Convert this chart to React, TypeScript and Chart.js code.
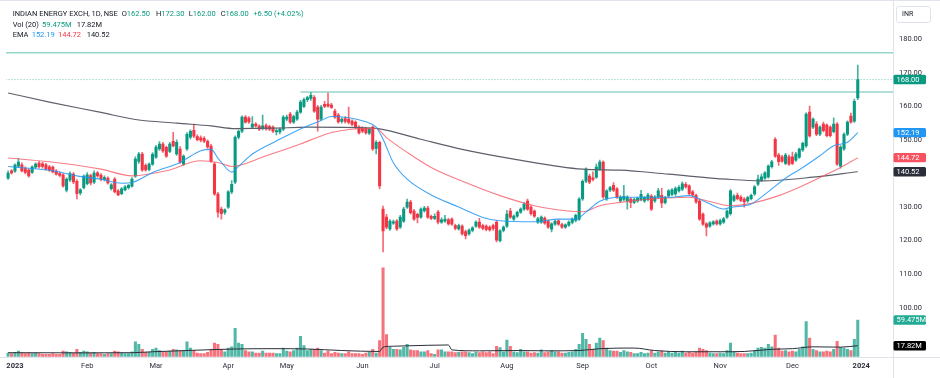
import React, { useEffect, useRef } from 'react';
import { Chart, registerables } from 'chart.js';

Chart.register(...registerables);

// [open, high, low, close, volume (millions)]
type Bar = [number, number, number, number, number];

const dec2022: Bar[] = [
  [138.6, 140.8, 138.2, 140.1, 6], [140.8, 141.2, 139.8, 140.2, 5],
];
const jan: Bar[] = [
  [140.7, 142.9, 140.3, 142.5, 7], [142.2, 144.5, 141.8, 143.4, 9], [142.6, 143.2, 140.5, 140.8, 6],
  [141.5, 142.0, 139.9, 140.3, 5], [141.0, 141.5, 138.9, 139.3, 6], [140.3, 142.3, 140.0, 142.0, 5],
  [141.9, 143.2, 141.5, 142.8, 6], [143.1, 143.6, 141.6, 142.0, 5], [142.9, 143.4, 141.6, 142.1, 4],
  [142.6, 143.0, 141.0, 141.3, 4], [142.0, 142.4, 140.6, 141.0, 4], [141.9, 142.2, 140.2, 140.5, 5],
  [140.7, 141.2, 139.5, 139.8, 4], [140.0, 140.5, 139.0, 139.4, 4], [139.6, 140.0, 135.9, 136.3, 9],
  [135.0, 138.7, 134.5, 138.3, 8], [138.1, 140.5, 137.6, 140.0, 7], [139.8, 140.3, 137.0, 137.5, 6],
  [137.7, 138.2, 132.4, 134.0, 12], [134.2, 135.5, 133.6, 135.1, 7], [135.8, 139.6, 135.4, 139.2, 9],
];
const feb: Bar[] = [
  [137.0, 140.3, 136.6, 139.6, 8], [139.4, 139.8, 136.6, 137.2, 6], [137.4, 140.8, 137.0, 140.1, 7],
  [140.2, 140.6, 138.9, 139.3, 5], [139.5, 140.0, 137.8, 138.3, 5], [138.2, 139.3, 137.8, 138.8, 4],
  [138.6, 139.0, 136.8, 137.2, 5], [135.5, 137.0, 135.0, 136.6, 5], [138.3, 138.8, 134.2, 134.5, 9],
  [134.8, 135.2, 133.4, 133.6, 8], [134.0, 135.8, 133.7, 135.4, 6], [135.1, 136.4, 134.8, 136.0, 5],
  [135.8, 136.8, 135.3, 136.5, 5], [136.2, 138.8, 135.9, 138.3, 8], [139.2, 145.0, 138.8, 144.3, 24],
  [143.6, 146.3, 143.0, 145.8, 20], [145.8, 146.3, 140.6, 141.1, 12], [142.4, 142.9, 140.7, 141.1, 7],
  [141.2, 143.2, 140.8, 142.8, 7], [142.8, 146.2, 142.4, 145.7, 12],
];
const mar: Bar[] = [
  [144.9, 148.4, 144.5, 147.9, 14], [147.3, 149.5, 146.9, 148.8, 10], [148.8, 149.3, 146.3, 146.7, 8],
  [147.8, 148.2, 144.8, 145.2, 8], [146.6, 149.3, 146.2, 148.8, 9], [149.6, 152.3, 147.9, 148.2, 12],
  [145.8, 150.0, 145.4, 149.3, 11], [147.3, 148.0, 143.0, 143.4, 10], [142.8, 145.6, 142.4, 145.2, 9],
  [147.3, 152.2, 146.9, 151.7, 24], [150.8, 153.0, 150.3, 152.6, 14], [152.9, 154.7, 150.7, 151.1, 10],
  [151.0, 151.5, 149.7, 150.1, 6], [150.6, 151.2, 149.4, 149.9, 5], [150.5, 151.0, 149.2, 149.6, 5],
  [149.6, 150.0, 147.5, 147.9, 7], [148.2, 148.7, 143.3, 143.7, 12], [142.8, 143.3, 133.5, 133.9, 22],
  [133.9, 134.4, 127.0, 128.5, 20], [129.4, 130.0, 126.4, 128.0, 12], [128.4, 129.5, 127.8, 129.2, 8],
];
const apr: Bar[] = [
  [130.0, 134.9, 129.6, 134.5, 14], [134.5, 137.9, 134.0, 136.8, 16], [137.4, 151.2, 137.0, 150.8, 46],
  [150.8, 153.0, 150.3, 152.6, 22], [152.6, 157.2, 152.2, 156.8, 20], [156.8, 157.3, 155.0, 155.3, 10],
  [156.5, 157.0, 154.9, 155.4, 8], [153.8, 157.0, 153.4, 154.7, 8], [154.7, 155.2, 153.8, 154.2, 6],
  [154.1, 154.5, 152.8, 153.2, 6], [153.4, 157.4, 153.0, 154.2, 9], [154.3, 154.8, 152.9, 153.3, 6],
  [154.0, 154.4, 152.8, 153.2, 6], [153.8, 154.2, 152.2, 152.6, 6], [152.4, 153.2, 151.5, 152.8, 5],
  [152.4, 153.6, 151.8, 153.2, 5], [153.2, 157.3, 152.8, 156.8, 14],
];
const may: Bar[] = [
  [156.2, 157.4, 155.7, 156.8, 9], [157.7, 158.2, 154.9, 155.3, 8], [155.3, 157.4, 154.9, 157.0, 10],
  [156.2, 158.8, 155.8, 158.3, 14], [158.3, 161.8, 157.9, 161.3, 33], [160.0, 162.5, 159.6, 162.0, 18],
  [162.0, 163.0, 161.4, 162.6, 10], [162.4, 164.1, 161.8, 163.3, 12], [162.7, 163.2, 158.2, 158.6, 12],
  [159.8, 160.3, 152.6, 156.2, 14], [156.2, 160.3, 155.8, 159.8, 10], [160.6, 161.5, 159.6, 160.0, 6],
  [160.7, 164.0, 159.8, 160.1, 9], [160.4, 160.9, 159.4, 159.7, 5], [158.6, 159.2, 156.4, 156.8, 7],
  [157.4, 157.9, 155.0, 155.4, 6], [155.5, 156.6, 155.0, 156.2, 5], [156.4, 157.0, 155.0, 155.5, 5],
  [156.2, 159.8, 154.8, 155.2, 8], [155.6, 156.0, 154.2, 154.6, 5], [155.3, 155.7, 153.4, 153.8, 5],
  [153.8, 154.3, 151.7, 152.1, 5],
];
const jun: Bar[] = [
  [153.5, 154.0, 152.2, 152.6, 4], [153.4, 153.8, 151.7, 152.1, 6], [152.0, 153.6, 151.6, 153.2, 7],
  [153.8, 154.2, 146.9, 147.3, 12], [147.5, 149.8, 145.8, 149.3, 6], [149.3, 149.7, 135.4, 136.3, 26],
  [129.4, 130.3, 116.6, 122.9, 144], [127.0, 127.8, 123.5, 124.0, 36], [123.5, 126.3, 123.0, 125.8, 15],
  [125.2, 126.1, 124.8, 125.6, 12], [125.8, 126.3, 123.0, 123.5, 12], [124.0, 127.5, 123.6, 127.0, 11],
  [125.8, 129.9, 125.4, 129.4, 15], [130.0, 132.4, 129.6, 131.5, 20], [131.5, 132.0, 127.9, 128.3, 11],
  [128.8, 129.3, 126.0, 126.4, 10], [127.8, 128.2, 125.3, 126.9, 10], [127.0, 129.8, 126.6, 129.4, 8],
  [128.9, 130.2, 128.5, 129.7, 8], [129.7, 130.2, 126.6, 127.0, 10], [127.2, 127.6, 126.2, 126.6, 5],
];
const jul: Bar[] = [
  [126.6, 128.0, 126.2, 127.2, 4], [128.5, 129.0, 125.0, 125.5, 11], [125.5, 126.8, 125.1, 126.2, 11],
  [125.8, 127.5, 125.4, 126.4, 8], [126.2, 126.6, 124.6, 125.0, 8], [126.4, 126.8, 124.5, 124.9, 8],
  [124.5, 124.9, 123.2, 123.6, 6.5], [123.5, 124.9, 123.1, 124.5, 7.5], [124.3, 124.7, 121.6, 122.0, 8],
  [122.7, 123.1, 120.5, 121.5, 8], [122.0, 123.5, 121.6, 123.1, 6.5], [123.0, 124.2, 122.6, 123.8, 5],
  [124.3, 125.9, 123.9, 125.5, 7.5], [125.5, 126.6, 123.6, 124.0, 6.5], [124.5, 124.9, 123.2, 123.6, 8],
  [124.3, 124.7, 122.9, 123.3, 6.5], [124.0, 124.4, 122.8, 123.2, 8], [124.5, 124.9, 123.0, 123.6, 5],
  [125.5, 126.0, 119.6, 120.1, 17], [120.0, 123.3, 119.6, 122.9, 14.6], [123.0, 124.4, 122.6, 124.0, 8],
];
const aug: Bar[] = [
  [124.3, 129.0, 123.9, 127.9, 27], [128.8, 129.6, 126.6, 127.0, 17], [126.4, 127.7, 126.0, 127.3, 8],
  [127.3, 128.8, 126.9, 128.4, 6.5], [128.5, 129.8, 128.1, 129.4, 12], [129.4, 131.3, 129.0, 130.9, 8],
  [131.8, 132.4, 129.0, 129.4, 8], [130.0, 130.4, 127.6, 128.0, 6], [128.8, 129.2, 126.9, 127.3, 6.5],
  [125.5, 126.9, 125.1, 126.5, 6], [125.5, 127.4, 125.1, 127.0, 11], [126.7, 127.1, 124.8, 125.2, 6.5],
  [125.8, 126.2, 123.6, 124.0, 8], [123.4, 125.4, 122.6, 125.0, 10], [124.9, 126.1, 124.5, 125.8, 8],
  [125.9, 126.3, 124.5, 124.9, 8], [124.8, 125.2, 123.6, 124.0, 6], [124.0, 125.0, 123.6, 124.7, 6],
  [124.6, 125.9, 124.2, 125.5, 7], [125.4, 126.8, 125.0, 126.4, 8], [126.0, 127.9, 125.6, 127.5, 12],
  [126.4, 132.8, 126.0, 132.4, 20],
];
const sep: Bar[] = [
  [132.4, 138.1, 132.0, 137.7, 38], [137.7, 141.7, 137.3, 141.3, 28], [139.2, 139.8, 137.0, 137.4, 20],
  [138.7, 140.5, 137.8, 138.2, 12], [138.9, 142.8, 138.5, 141.9, 22], [141.3, 144.0, 140.9, 143.4, 30],
  [143.4, 143.8, 132.6, 133.0, 26], [132.4, 135.2, 132.0, 134.8, 14], [135.0, 136.2, 134.6, 135.8, 10],
  [136.5, 137.3, 134.6, 135.0, 9], [135.4, 135.8, 132.6, 133.0, 9], [131.8, 133.4, 131.4, 133.0, 7],
  [132.3, 136.5, 131.9, 133.2, 10], [131.8, 133.4, 129.4, 133.0, 8], [132.4, 132.8, 129.8, 131.4, 7],
  [131.4, 132.6, 131.0, 132.2, 5], [131.8, 133.0, 131.4, 132.6, 5], [132.2, 135.0, 131.8, 133.8, 7],
  [131.8, 133.2, 131.4, 132.8, 5], [132.2, 134.1, 131.8, 133.6, 6],
];
const oct: Bar[] = [
  [133.3, 133.7, 128.9, 129.4, 10], [131.8, 133.4, 131.4, 133.0, 6], [133.0, 135.6, 132.6, 134.8, 8],
  [133.5, 135.6, 129.8, 131.2, 9], [131.3, 133.2, 130.9, 132.8, 6], [133.3, 135.2, 132.9, 134.8, 8],
  [133.8, 135.5, 133.4, 135.1, 6], [133.9, 136.0, 133.5, 135.5, 7], [134.8, 136.4, 134.4, 135.9, 6],
  [135.3, 137.5, 134.9, 136.9, 9], [136.8, 137.4, 135.6, 136.0, 6], [136.3, 136.6, 133.6, 134.0, 7],
  [134.5, 135.0, 133.2, 133.6, 6], [133.5, 133.9, 131.1, 131.5, 8], [131.8, 132.2, 126.0, 126.4, 14],
  [127.9, 128.3, 124.5, 124.9, 12], [125.0, 125.4, 121.4, 124.0, 10], [124.3, 125.7, 123.9, 125.3, 6],
  [125.0, 126.0, 124.6, 125.6, 5], [125.8, 126.2, 124.6, 125.0, 5],
];
const nov: Bar[] = [
  [125.0, 126.4, 124.6, 126.0, 6], [125.5, 126.9, 125.1, 126.5, 5], [127.0, 129.2, 126.6, 128.8, 10],
  [128.0, 135.2, 127.6, 134.8, 22], [132.0, 133.7, 131.6, 133.3, 8], [133.5, 134.2, 132.1, 132.5, 6],
  [133.0, 133.4, 131.6, 132.0, 5], [132.4, 132.8, 130.0, 131.5, 5], [131.8, 133.2, 131.4, 132.8, 5],
  [132.5, 133.9, 132.1, 133.5, 6], [133.9, 136.4, 133.5, 136.0, 10], [136.8, 139.5, 136.4, 138.3, 14],
  [138.0, 139.8, 137.6, 139.0, 15], [138.6, 140.6, 138.2, 140.2, 14], [139.0, 142.6, 138.6, 142.2, 20],
  [142.0, 143.9, 141.6, 143.5, 16], [150.2, 150.7, 144.8, 145.2, 35], [145.5, 146.0, 142.4, 143.5, 14],
  [145.0, 145.4, 143.3, 143.7, 9], [143.0, 146.0, 142.6, 145.5, 10], [145.0, 145.6, 142.4, 142.8, 8],
];
const dec: Bar[] = [
  [145.0, 146.4, 142.6, 143.0, 9], [144.0, 146.3, 143.6, 145.8, 8], [144.9, 147.6, 144.5, 147.3, 12],
  [147.0, 149.4, 146.6, 149.0, 16], [148.2, 158.1, 147.8, 157.7, 57], [158.3, 160.1, 150.8, 151.2, 30],
  [153.8, 156.6, 153.4, 156.2, 12], [154.7, 155.5, 151.3, 151.7, 10], [151.7, 154.2, 151.3, 153.8, 8],
  [154.7, 155.3, 152.4, 152.8, 8], [154.4, 154.8, 150.9, 151.3, 9], [153.8, 154.2, 150.9, 151.3, 8],
  [152.5, 156.6, 152.1, 154.7, 12], [154.7, 155.2, 142.4, 142.8, 25], [142.2, 148.3, 141.6, 147.9, 15],
  [147.3, 152.1, 146.9, 151.7, 14], [151.7, 155.7, 151.3, 155.3, 12], [157.1, 158.0, 155.0, 155.3, 10],
  [155.6, 162.2, 155.2, 161.5, 28], [162.5, 172.3, 162.0, 168.0, 59.475],
];

const months2023: Bar[][] = [jan, feb, mar, apr, may, jun, jul, aug, sep, oct, nov, dec];
const monthLabels = ['2023', 'Feb', 'Mar', 'Apr', 'May', 'Jun', 'Jul', 'Aug', 'Sep', 'Oct', 'Nov', 'Dec', '2024'];
const priceTicks = [100, 110, 120, 130, 140, 150, 160, 170, 180];

// indicator readings: [bar index, value]
const ema20: [number, number][] = [
  [-2, 142.1], [11, 140.8], [18, 139.3], [25, 138.3], [31, 137.1], [34, 137.3], [40, 140.3], [48, 143.3],
  [54, 146.8], [57, 147.2], [59, 144.6], [62, 141.0], [63, 140.4], [65, 142.1], [69, 145.8], [76, 149.7],
  [83, 153.3], [89, 155.8], [92, 157.0], [102, 155.4], [105, 153.8], [107, 150.2], [110, 143.2], [114, 138.3],
  [121, 133.6], [129, 130.0], [136, 126.9], [141, 125.9], [151, 125.6], [158, 126.4], [163, 126.4], [166, 128.5],
  [170, 131.7], [176, 132.9], [190, 132.9], [196, 133.4], [201, 131.4], [206, 129.4], [208, 129.9], [214, 130.9],
  [219, 134.6], [224, 138.6], [229, 141.8], [234, 145.3], [238, 148.3], [242, 149.3], [245, 152.19],
];
const ema50: [number, number][] = [
  [-2, 144.6], [10, 143.5], [25, 141.3], [34, 139.3], [44, 140.8], [54, 143.8], [59, 143.3], [63, 142.1],
  [73, 145.3], [83, 148.8], [89, 151.2], [92, 152.2], [102, 153.4], [105, 153.4], [108, 150.7], [114, 146.3],
  [121, 141.8], [131, 137.3], [141, 133.4], [151, 130.4], [160, 128.9], [165, 128.6], [170, 130.4], [176, 131.4],
  [180, 131.9], [196, 132.9], [201, 131.9], [208, 130.4], [214, 131.1], [222, 133.4], [228, 135.9], [234, 138.8],
  [240, 141.8], [245, 144.72],
];
const ema200: [number, number][] = [
  [-2, 164.0], [10, 161.3], [25, 158.2], [35, 156.1], [47, 155.0], [57, 154.2], [64, 153.4], [75, 153.5],
  [85, 153.8], [100, 153.7], [106, 153.3], [118, 150.2], [130, 147.2], [145, 144.3], [165, 141.3], [176, 141.0],
  [190, 139.8], [207, 138.3], [217, 137.8], [232, 138.9], [245, 140.52],
];
const volMA: [number, number][] = [
  [-2, 6.5], [20, 6.2], [34, 6.5], [40, 8], [50, 10], [64, 12.5], [75, 13], [85, 12.5], [95, 10], [106, 8.5],
  [107, 15.5], [110, 17], [120, 18.5], [126, 19], [127, 11], [135, 9.5], [145, 10], [155, 9.5], [164, 10],
  [170, 13], [180, 14], [186, 10], [195, 8], [205, 8], [212, 8.5], [220, 12], [226, 13], [232, 16], [240, 15.5],
  [245, 17.82],
];
const hLineTop = 176.0;
const hLineMid = 164.3;
const hLineMidStart = 83;

const UP = '#089981';
const DOWN = '#F23645';
const FONT = 'Roboto, "Noto Sans", sans-serif';

const allBars: Bar[] = [...dec2022, ...months2023.flat()];
const firstIndex = -dec2022.length;
const lastBar = allBars[allBars.length - 1];
const prevBar = allBars[allBars.length - 2];

export default function App() {
  const ref = useRef<HTMLCanvasElement>(null);

  useEffect(() => {
    const xs = allBars.map((_, k) => firstIndex + k);
    const isUp = allBars.map((b) => b[3] >= b[0]);
    const monthTicks: number[] = [];
    let acc = 0;
    months2023.forEach((m) => { monthTicks.push(acc); acc += m.length; });
    monthTicks.push(acc);

    const pts = (arr: [number, number][]) => arr.map(([x, y]) => ({ x, y }));
    const xMin = -2.61;
    const xMax = 255.24;

    const last = lastBar[3];
    const overlay = {
      id: 'overlay',
      afterDraw(chart: any) {
        const { ctx, chartArea: a, scales } = chart;
        ctx.save();
        ctx.strokeStyle = '#e0e3eb';
        ctx.lineWidth = 1;
        const rx = Math.round(a.right) + 0.5;
        ctx.beginPath(); ctx.moveTo(rx, 0); ctx.lineTo(rx, chart.height); ctx.stroke();
        const by = Math.round(a.bottom) + 0.5;
        ctx.beginPath(); ctx.moveTo(0, by); ctx.lineTo(chart.width, by); ctx.stroke();
        ctx.beginPath(); ctx.moveTo(0, 0.5); ctx.lineTo(chart.width, 0.5); ctx.stroke();

        const badge = (y: number, text: string, bg: string) => {
          const h = 9.4;
          ctx.fillStyle = bg;
          ctx.beginPath();
          ctx.roundRect(a.right + 0.5, y - h / 2, 32.5, h, 1.5);
          ctx.fill();
          ctx.fillStyle = '#ffffff';
          ctx.font = `7.5px ${FONT}`;
          ctx.textBaseline = 'middle';
          ctx.textAlign = 'left';
          ctx.fillText(text, a.right + 3.5, y + 0.3);
        };
        const ys = scales.y;
        const yv = scales.yv;
        badge(ys.getPixelForValue(ema200[ema200.length - 1][1]), ema200[ema200.length - 1][1].toFixed(2), '#2a2e39');
        badge(ys.getPixelForValue(ema50[ema50.length - 1][1]), ema50[ema50.length - 1][1].toFixed(2), '#F7525F');
        badge(ys.getPixelForValue(ema20[ema20.length - 1][1]), ema20[ema20.length - 1][1].toFixed(2), '#2196F3');
        badge(ys.getPixelForValue(last), last.toFixed(2), UP);
        badge(yv.getPixelForValue(lastBar[4]), lastBar[4].toFixed(3) + 'M', '#22ab94');
        badge(yv.getPixelForValue(volMA[volMA.length - 1][1]), volMA[volMA.length - 1][1].toFixed(2) + 'M', '#000000');
        ctx.restore();
      },
    };

    const chart = new Chart(ref.current as HTMLCanvasElement, {
      type: 'bar',
      data: {
        datasets: [
          {
            type: 'bar',
            yAxisID: 'yv',
            data: xs.map((x, k) => ({ x, y: allBars[k][4] })),
            backgroundColor: isUp.map((u) => (u ? 'rgba(8,153,129,0.7)' : 'rgba(242,54,69,0.7)')),
            barThickness: 2.4,
            grouped: false,
            order: 10,
          } as any,
          {
            type: 'line',
            yAxisID: 'yv',
            data: pts(volMA),
            borderColor: '#2a2e39',
            borderWidth: 1,
            pointRadius: 0,
            cubicInterpolationMode: 'monotone',
            order: 9,
          } as any,
          {
            type: 'line',
            yAxisID: 'y',
            data: [{ x: xMin - 1, y: hLineTop }, { x: xMax + 1, y: hLineTop }],
            borderColor: 'rgba(8,153,129,0.42)',
            borderWidth: 1.5,
            pointRadius: 0,
            order: 8,
          } as any,
          {
            type: 'line',
            yAxisID: 'y',
            data: [{ x: hLineMidStart, y: hLineMid }, { x: xMax + 1, y: hLineMid }],
            borderColor: 'rgba(8,153,129,0.42)',
            borderWidth: 1.5,
            pointRadius: 0,
            order: 8,
          } as any,
          {
            type: 'line',
            yAxisID: 'y',
            data: [{ x: xMin - 1, y: last }, { x: xMax + 1, y: last }],
            borderColor: 'rgba(8,153,129,0.55)',
            borderWidth: 1,
            borderDash: [1, 2],
            pointRadius: 0,
            order: 8,
          } as any,
          {
            type: 'bar',
            yAxisID: 'y',
            data: xs.map((x, k) => ({ x, y: [allBars[k][2], allBars[k][1]] })),
            backgroundColor: isUp.map((u) => (u ? 'rgba(8,153,129,0.75)' : 'rgba(242,54,69,0.75)')),
            barThickness: 1,
            grouped: false,
            order: 5,
          } as any,
          {
            type: 'bar',
            yAxisID: 'y',
            data: xs.map((x, k) => ({ x, y: [allBars[k][0], allBars[k][3]] })),
            backgroundColor: isUp.map((u) => (u ? UP : DOWN)),
            barThickness: 2.4,
            grouped: false,
            order: 4,
          } as any,
          {
            type: 'line',
            yAxisID: 'y',
            data: pts(ema200),
            borderColor: '#5d606b',
            borderWidth: 1.2,
            pointRadius: 0,
            cubicInterpolationMode: 'monotone',
            order: 3,
          } as any,
          {
            type: 'line',
            yAxisID: 'y',
            data: pts(ema50),
            borderColor: 'rgba(247,82,95,0.75)',
            borderWidth: 1.1,
            pointRadius: 0,
            cubicInterpolationMode: 'monotone',
            order: 2,
          } as any,
          {
            type: 'line',
            yAxisID: 'y',
            data: pts(ema20),
            borderColor: 'rgba(33,150,243,0.85)',
            borderWidth: 1.1,
            pointRadius: 0,
            cubicInterpolationMode: 'monotone',
            order: 1,
          } as any,
        ],
      },
      options: {
        animation: false,
        responsive: false,
        devicePixelRatio: 1,
        layout: { autoPadding: false, padding: { left: 6, top: 1, right: 0, bottom: 0 } },
        plugins: { legend: { display: false }, tooltip: { enabled: false } },
        scales: {
          x: {
            type: 'linear',
            min: xMin,
            max: xMax,
            offset: false,
            grid: { display: false, drawTicks: false },
            border: { display: false },
            afterFit: (s: any) => { s.height = 21.3; s.paddingLeft = 0; s.paddingRight = 0; },
            afterBuildTicks: (s: any) => { s.ticks = monthTicks.map((v) => ({ value: v })); },
            ticks: {
              autoSkip: false,
              maxRotation: 0,
              padding: 5,
              color: '#2a2e39',
              font: (c: any) => ({ size: 7.5, family: FONT, weight: c.index === 0 || c.index === monthTicks.length - 1 ? 'bold' : 'normal' }),
              callback: (_v: any, i: number) => monthLabels[i],
            },
          },
          y: {
            type: 'linear',
            position: 'right',
            min: 85.39,
            max: 191.42,
            grid: { display: false, drawTicks: false },
            border: { display: false },
            afterFit: (s: any) => { s.width = 47; s.paddingTop = 0; s.paddingBottom = 0; },
            afterBuildTicks: (s: any) => { s.ticks = priceTicks.map((v) => ({ value: v })); },
            ticks: {
              padding: 6,
              color: '#2a2e39',
              font: { size: 7.5, family: FONT },
              callback: (v: any) => Number(v).toFixed(2),
            },
          },
          yv: {
            type: 'linear',
            display: false,
            min: 0,
            max: 576.5,
          },
        },
      } as any,
      plugins: [overlay],
    });
    return () => chart.destroy();
  }, []);

  const change = lastBar[3] - prevBar[3];
  const pct = (change / prevBar[3]) * 100;
  const green = UP;
  const dark = '#131722';
  const seg = (left: number, top: number, children: React.ReactNode) => (
    <div style={{ position: 'absolute', left, top, whiteSpace: 'nowrap' }}>{children}</div>
  );
  const l1 = 9, l2 = 19.7, l3 = 30.1;
  return (
    <div style={{ position: 'fixed', left: 0, top: 0, width: 940, height: 378, background: '#ffffff', overflow: 'hidden' }}>
      <canvas ref={ref} width={940} height={378} style={{ display: 'block', width: 940, height: 378 }} />
      <div style={{ position: 'absolute', left: 0, top: 0, font: `7.5px ${FONT}`, lineHeight: '10.5px', color: dark }}>
        {seg(12.7, l1, 'INDIAN ENERGY EXCH, 1D, NSE')}
        {seg(121.7, l1, <span><span>O</span><span style={{ color: green }}>{lastBar[0].toFixed(2)}</span></span>)}
        {seg(156, l1, <span><span>H</span><span style={{ color: green }}>{lastBar[1].toFixed(2)}</span></span>)}
        {seg(188.7, l1, <span><span>L</span><span style={{ color: green }}>{lastBar[2].toFixed(2)}</span></span>)}
        {seg(220.7, l1, <span><span>C</span><span style={{ color: green }}>{lastBar[3].toFixed(2)}</span></span>)}
        {seg(253.3, l1, <span style={{ color: green }}>{`+${change.toFixed(2)} (+${pct.toFixed(2)}%)`}</span>)}
        {seg(12.7, l2, 'Vol (20)')}
        {seg(42, l2, <span style={{ color: green }}>{lastBar[4].toFixed(3)}M</span>)}
        {seg(76.7, l2, `${volMA[volMA.length - 1][1].toFixed(2)}M`)}
        {seg(12.7, l3, 'EMA')}
        {seg(31.7, l3, <span style={{ color: '#2196F3' }}>{ema20[ema20.length - 1][1].toFixed(2)}</span>)}
        {seg(58, l3, <span style={{ color: '#F23645' }}>{ema50[ema50.length - 1][1].toFixed(2)}</span>)}
        {seg(86.7, l3, <span style={{ color: dark }}>{ema200[ema200.length - 1][1].toFixed(2)}</span>)}
      </div>
      <div style={{ position: 'absolute', left: 896, top: 6, width: 35, height: 16.5, boxSizing: 'border-box', border: '1px solid #e0e3eb', borderRadius: 3, font: `7px ${FONT}`, color: dark, lineHeight: '14.5px', paddingLeft: 5 }}>INR</div>
    </div>
  );
}
